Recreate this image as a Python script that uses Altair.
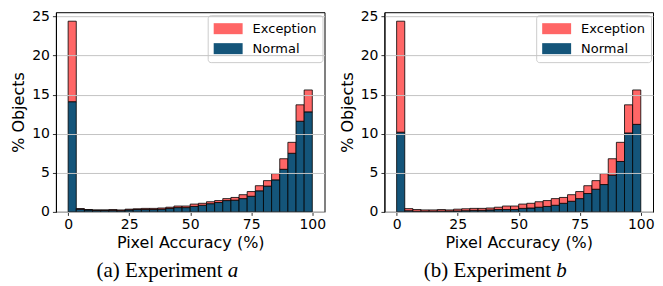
import altair as alt
import numpy as np
import pandas as pd

# 30 histogram bins over 0..100
edges = np.linspace(0, 100, 31)

# total height of each stacked bar (% objects), same in both experiments
total = [24.4, 0.42, 0.3, 0.25, 0.25, 0.3, 0.25, 0.35, 0.4, 0.45,
         0.45, 0.5, 0.6, 0.75, 0.75, 1.0, 1.1, 1.3, 1.45, 1.7,
         1.85, 2.2, 2.6, 3.35, 4.0, 4.9, 6.8, 8.9, 13.7, 15.6]
# "Normal" part, experiment a
normal_a = [14.1, 0.35, 0.25, 0.2, 0.2, 0.2, 0.15, 0.25, 0.3, 0.3,
            0.3, 0.35, 0.45, 0.55, 0.55, 0.7, 0.85, 1.05, 1.2, 1.45,
            1.5, 1.7, 2.0, 2.7, 3.3, 4.1, 5.45, 7.5, 11.6, 12.8]
# "Normal" part, experiment b
normal_b = [10.2, 0.15, 0.08, 0.08, 0.08, 0.1, 0.1, 0.12, 0.15, 0.2,
            0.2, 0.25, 0.3, 0.3, 0.3, 0.45, 0.5, 0.6, 0.7, 0.85,
            1.1, 1.36, 1.7, 2.35, 2.9, 3.5, 4.7, 6.45, 10.1, 11.2]

series = ["Exception", "Normal"]
colors = ["#FF6666", "#14557A"]
x_ticks = [0, 25, 50, 75, 100]
y_ticks = [0, 5, 10, 15, 20, 25]
captions = [("(a) Experiment", "a"), ("(b) Experiment", "b")]

W, H = 269, 200


def frame(normal):
    rows = []
    for i in range(30):
        rows.append({"lo": edges[i], "hi": edges[i + 1], "series": "Normal",
                     "y0": 0.0, "y1": normal[i]})
        rows.append({"lo": edges[i], "hi": edges[i + 1], "series": "Exception",
                     "y0": normal[i], "y1": total[i]})
    return pd.DataFrame(rows)


def panel(normal, cap, cap_x):
    df = frame(normal)
    bars = alt.Chart(df).mark_rect(stroke="black", strokeWidth=0.8).encode(
        x=alt.X("lo:Q", scale=alt.Scale(domain=[-5, 105], nice=False, zero=False),
                axis=alt.Axis(values=x_ticks, title="Pixel Accuracy (%)", grid=False,
                              labelPadding=2, titlePadding=3)),
        x2="hi:Q",
        y=alt.Y("y0:Q", scale=alt.Scale(domain=[0, 25.55], nice=False),
                axis=alt.Axis(values=y_ticks, title="% Objects", grid=True, zindex=1,
                              labelPadding=3, titlePadding=5)),
        y2="y1:Q",
        color=alt.Color("series:N", scale=alt.Scale(domain=series, range=colors),
                        legend=alt.Legend(
                            title=None, orient="none", legendX=152, legendY=3,
                            symbolType="M-2,-0.76L2,-0.76L2,0.76L-2,0.76Z",
                            symbolSize=210, symbolStrokeWidth=0, symbolOpacity=1,
                            labelFontSize=13, labelFont="DejaVu Sans", labelColor="black",
                            labelOffset=17, symbolOffset=7, rowPadding=5, padding=6,
                            strokeColor="#cccccc", fillColor="rgba(255,255,255,0.8)",
                            cornerRadius=3)),
    ).properties(width=W, height=H)
    capdf = pd.DataFrame({"t": [cap[0]], "i": [cap[1]]})
    t1 = alt.Chart(capdf).mark_text(align="right", baseline="alphabetic",
                                     font="Liberation Serif", fontSize=21, color="black").encode(
        x=alt.value(cap_x), y=alt.value(265), text="t:N")
    t2 = alt.Chart(capdf).mark_text(align="left", baseline="alphabetic",
                                     font="Liberation Serif", fontSize=21, fontStyle="italic",
                                     color="black").encode(
        x=alt.value(cap_x + 5), y=alt.value(265), text="i:N")
    return alt.layer(bars, t1, t2)


pa = panel(normal_a, captions[0], 167)
pb = panel(normal_b, captions[1], 167)

chart = alt.hconcat(pa, pb, spacing=12).resolve_scale(
    color="independent").resolve_legend(color="independent").configure(
    padding={"left": 2, "top": 0, "right": 0, "bottom": 0},
    font="DejaVu Sans",
).configure_view(stroke="black", strokeWidth=1).configure_axis(
    labelFont="DejaVu Sans", labelFontSize=14, labelColor="black",
    titleFont="DejaVu Sans", titleFontSize=16, titleColor="black", titleFontWeight="normal",
    tickColor="black", tickSize=3.5, tickWidth=0.8, domainColor="black", domainWidth=1,
    gridColor="#c4c4c4", gridWidth=1,
)

chart.save("out.html", embed_options={"renderer": "svg", "actions": False})
